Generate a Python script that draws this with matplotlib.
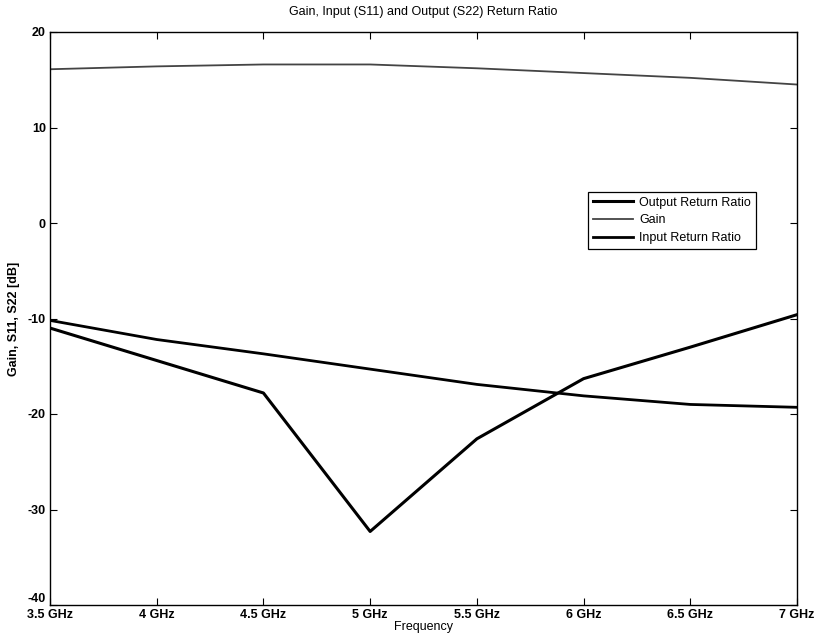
import matplotlib
matplotlib.use("Agg")
import matplotlib.pyplot as plt

freq = [3.5, 4.0, 4.5, 5.0, 5.5, 6.0, 6.5, 7.0]
tick_labels = ["3.5 GHz", "4 GHz", "4.5 GHz", "5 GHz", "5.5 GHz", "6 GHz", "6.5 GHz", "7 GHz"]
output_rr = [-11.0, -14.4, -17.8, -32.3, -22.6, -16.3, -13.0, -9.6]
gain = [16.1, 16.4, 16.6, 16.6, 16.2, 15.7, 15.2, 14.5]
input_rr = [-10.2, -12.2, -13.7, -15.3, -16.9, -18.1, -19.0, -19.3]

plt.rcParams['font.family'] = ['Liberation Sans', 'DejaVu Sans']
plt.rcParams['axes.unicode_minus'] = False

fig = plt.figure(figsize=(8.15, 6.38), dpi=100)
ax = fig.add_axes([50/815, 1-605/638, (797-50)/815, (605-32)/638])

ax.plot(freq, output_rr, color='black', lw=2.2, label='Output Return Ratio')
ax.plot(freq, gain, color='#444444', lw=1.3, label='Gain')
ax.plot(freq, input_rr, color='black', lw=2.0, label='Input Return Ratio')

ax.set_xlim(3.5, 7.0)
ax.set_ylim(-40, 20)
ax.set_xticks(freq)
ax.set_xticklabels(tick_labels)
ax.set_yticks([-40, -30, -20, -10, 0, 10, 20])
ax.tick_params(direction='in', top=True, right=True, length=5, labelsize=9, pad=3)
for lbl in ax.get_xticklabels() + ax.get_yticklabels():
    lbl.set_fontweight('bold')
fig.canvas.draw()
ylbls = ax.get_yticklabels()
ylbls[0].set_va('bottom')
ax.set_xlabel('Frequency', fontsize=9, labelpad=0)
ax.set_ylabel('Gain, S11, S22 [dB]', fontsize=9, fontweight='bold')
ax.yaxis.set_label_coords(-0.040, 0.5)
ax.set_title('Gain, Input (S11) and Output (S22) Return Ratio', fontsize=9, pad=12)
for s in ax.spines.values():
    s.set_linewidth(1.0)

leg = ax.legend(loc='upper left', bbox_to_anchor=(0.712, 0.732), fontsize=9,
                frameon=True, fancybox=False, edgecolor='black', framealpha=1,
                handlelength=3.2, borderpad=0.4, labelspacing=0.45, handletextpad=0.5)
leg.get_frame().set_linewidth(0.9)

fig.savefig('out.png', dpi=100)
